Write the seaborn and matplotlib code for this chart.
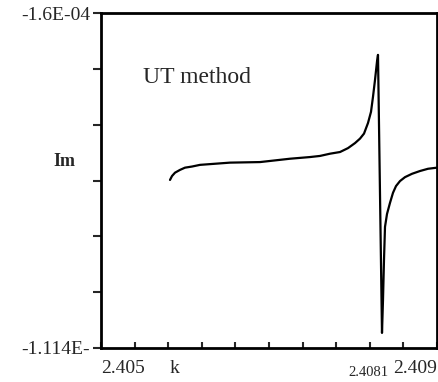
import numpy as np
import pandas as pd
import matplotlib
matplotlib.use("Agg")
import matplotlib.pyplot as plt
import seaborn as sns

# Data (y in tick-grid units: 0 = bottom, 6 = top)
k_values = [2.4058214, 2.4058452, 2.4058810, 2.4059405, 2.4060000, 2.4060833,
            2.4061786, 2.4063571, 2.4065357, 2.4068929, 2.4072500, 2.4074881,
            2.4076071, 2.4077262, 2.4078452, 2.4079405, 2.4080238, 2.4080833,
            2.4081310, 2.4081786, 2.4082143, 2.4082381, 2.4082619, 2.4082857,
            2.4082976, 2.4083452, 2.4083571, 2.4083690, 2.4083810, 2.4084048,
            2.4084405, 2.4084762, 2.4085119, 2.4085595, 2.4086190, 2.4087024,
            2.4087976, 2.4088929, 2.4090000]
im_values = [3.01, 3.08, 3.14, 3.19, 3.23, 3.25,
             3.28, 3.30, 3.32, 3.33, 3.39, 3.42,
             3.44, 3.48, 3.51, 3.58, 3.67, 3.75,
             3.84, 4.03, 4.23, 4.50, 4.80, 5.13,
             5.25, 0.27, 0.86, 1.58, 2.17, 2.40,
             2.60, 2.78, 2.90, 2.99, 3.06, 3.12,
             3.17, 3.21, 3.23]
y_tick_labels = ["-1.114E-", "", "", "", "", "", "-1.6E-04"]
x_label_text = ["2.405", "2.4081", "2.409"]

sns.set_style("ticks")
plt.rcParams["font.family"] = ["Liberation Serif", "DejaVu Serif"]

fig = plt.figure(figsize=(4.38, 3.82), dpi=100)
ax = fig.add_axes([101 / 438, 34 / 382, 336 / 438, 335 / 382])

df = pd.DataFrame({"k": k_values, "Im": im_values})
sns.lineplot(data=df, x="k", y="Im", ax=ax, color="black", linewidth=1.6,
             sort=False, estimator=None)

ax.set_xlim(2.405, 2.409)
ax.set_ylim(0, 6)
ax.set_xlabel("")
ax.set_ylabel("")

for s in ax.spines.values():
    s.set_linewidth(2.0)
    s.set_color("black")

ax.set_yticks(range(7))
ax.set_yticklabels(y_tick_labels, fontsize=14)
ax.tick_params(axis="y", direction="out", length=6, width=1.5, pad=2)

ax.set_xticks(np.linspace(2.405, 2.409, 11))
ax.set_xticklabels([""] * 11)
ax.tick_params(axis="x", direction="in", length=4, width=1.5)

tr = ax.get_xaxis_transform()
ax.text(2.405, -0.035, x_label_text[0], transform=tr, ha="left", va="top", fontsize=14)
ax.text(2.40818, -0.055, x_label_text[1], transform=tr, ha="center", va="top", fontsize=10.5)
ax.text(2.409, -0.035, x_label_text[2], transform=tr, ha="right", va="top", fontsize=14)
ax.text(2.40587, -0.035, "k", transform=tr, ha="center", va="top", fontsize=14)

fig.text(64 / 438, 1 - 161 / 382, "Im", ha="center", va="center", fontsize=13, fontweight="bold")
fig.text(143 / 438, 1 - 83 / 382, "UT method", ha="left", va="baseline", fontsize=17)

fig.savefig("out.png", dpi=100)
